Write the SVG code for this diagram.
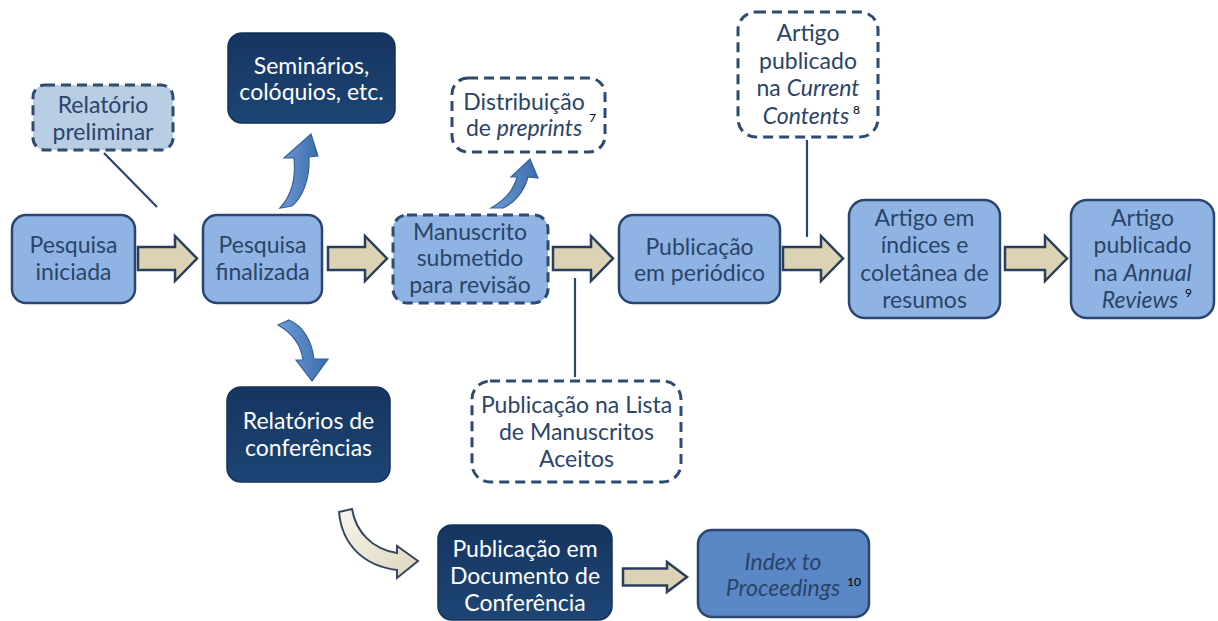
<svg xmlns="http://www.w3.org/2000/svg" width="1218" height="621" viewBox="0 0 1218 621">
<defs>
<style>
.box{fill:#8fb4e3;stroke:#2a4570;stroke-width:2.5}
.light{fill:#b9cde5;stroke:#2f4b72;stroke-width:3;stroke-dasharray:10 6}
.wdash{fill:#ffffff;stroke:#2f4b72;stroke-width:3;stroke-dasharray:10 6}
.mdash{fill:#8fb4e3;stroke:#2f4b72;stroke-width:3;stroke-dasharray:10 6}
.dark{fill:url(#gDark);stroke:#14325a;stroke-width:1.5}
.mid{fill:#5a88c6;stroke:#2a4570;stroke-width:2.5}
.t{font-family:Lato,"Open Sans","Liberation Sans",sans-serif;font-size:23px;fill:#2b4468;text-anchor:middle}
.tw{fill:#ffffff}
.i{font-style:italic}
.sup{font-family:Lato,"Liberation Sans",sans-serif;font-size:12px;fill:#000000}
.barrow{fill:#dcd3b4;stroke:#2a3f5c;stroke-width:2.5;stroke-linejoin:miter}
.carrow{fill:url(#gBlue);stroke:#34619c;stroke-width:1.2}
.warrow{fill:url(#gBeige);stroke:#34475f;stroke-width:2}
.link{stroke:#2a4570;stroke-width:2.2;fill:none}
</style>
<linearGradient id="gDark" x1="0" y1="0" x2="0" y2="1">
<stop offset="0" stop-color="#163560"/>
<stop offset="1" stop-color="#1d4574"/>
</linearGradient>
<linearGradient id="gBlue" x1="0" y1="0" x2="1" y2="0">
<stop offset="0" stop-color="#6f9cd6"/>
<stop offset="1" stop-color="#3d6cab"/>
</linearGradient>
<linearGradient id="gBeige" x1="0" y1="0" x2="1" y2="1">
<stop offset="0" stop-color="#f7f5ee"/>
<stop offset="1" stop-color="#ddd6bd"/>
</linearGradient>
</defs>
<rect width="1218" height="621" fill="#ffffff"/>

<g id="connectors">
<line class="link" x1="104" y1="153" x2="157" y2="207"/>
<line class="link" x1="807" y1="140" x2="807" y2="237"/>
<line class="link" x1="575" y1="278" x2="575" y2="377"/>
<path class="barrow" d="M138,247 L175,247 L175,236 L197,258.5 L175,281 L175,270 L138,270 Z"/>
<path class="barrow" d="M328,247 L365,247 L365,236 L387,258.5 L365,281 L365,270 L328,270 Z"/>
<path class="barrow" d="M553,247 L591,247 L591,236 L613,258.5 L591,281 L591,270 L553,270 Z"/>
<path class="barrow" d="M783,247 L821,247 L821,236 L843,258.5 L821,281 L821,270 L783,270 Z"/>
<path class="barrow" d="M1005,247 L1045,247 L1045,236 L1067,258.5 L1045,281 L1045,270 L1005,270 Z"/>
<path class="barrow" d="M623,568.5 L667,568.5 L667,562 L687,577 L667,592 L667,585.5 L623,585.5 Z"/>
<path class="carrow" d="M280,208 C292,195 296,178 294,158 L284,158 L311,134 L318,156 L309,157 C310,180 302,198 292,206 Z"/>
<path class="carrow" d="M491,208 C505,200 514,190 517,177 L511,177 L530,159 L538,178 L528,177 C524,192 514,203 503,208 Z"/>
<path class="carrow" d="M278,325 L289,320 C303,326 312,341 314,359 L328,359 L312,381 L296,360 L303,360 C301,345 292,333 278,325 Z"/>
<path class="warrow" d="M339,512 L352,509 C356,532 372,549 397,553 L397,546 L418,561 L397,578 L397,570 C364,566 342,545 339,512 Z"/>
</g>

<g id="n-pesquisa-iniciada">
<rect class="box" x="12" y="215" width="123" height="88" rx="14"/>
<text class="t" x="73.5" y="253">Pesquisa</text>
<text class="t" x="73.5" y="280">iniciada</text>
</g>

<g id="n-pesquisa-finalizada">
<rect class="box" x="203" y="215" width="119" height="88" rx="14"/>
<text class="t" x="262.5" y="253">Pesquisa</text>
<text class="t" x="262.5" y="280">finalizada</text>
</g>

<g id="n-relatorio-preliminar">
<rect class="light" x="33" y="85" width="140" height="65" rx="12"/>
<text class="t" x="103" y="113">Relatório</text>
<text class="t" x="103" y="140">preliminar</text>
</g>

<g id="n-seminarios">
<rect class="dark" x="228" y="33" width="167" height="90" rx="14"/>
<text class="t tw" x="311.5" y="74">Seminários,</text>
<text class="t tw" x="311.5" y="100">colóquios, etc.</text>
</g>

<g id="n-manuscrito">
<rect class="mdash" x="393" y="215" width="155" height="88" rx="14"/>
<text class="t" x="470" y="240">Manuscrito</text>
<text class="t" x="470" y="266">submetido</text>
<text class="t" x="470" y="293">para revisão</text>
</g>

<g id="n-distribuicao">
<rect class="wdash" x="452" y="78" width="153" height="74" rx="16"/>
<text class="t" x="524" y="110">Distribuição</text>
<text class="t" x="524" y="136">de <tspan class="i">preprints</tspan></text>
<text class="sup" x="589" y="122">7</text>
</g>

<g id="n-publicacao-periodico">
<rect class="box" x="619" y="215" width="161" height="88" rx="14"/>
<text class="t" x="699.5" y="255">Publicação</text>
<text class="t" x="699.5" y="281">em periódico</text>
</g>

<g id="n-current-contents">
<rect class="wdash" x="738" y="12" width="140" height="125" rx="18"/>
<text class="t" x="808" y="41">Artigo</text>
<text class="t" x="808" y="69">publicado</text>
<text class="t" x="808" y="96">na <tspan class="i">Current</tspan></text>
<text class="t i" x="806" y="124">Contents</text>
<text class="sup" x="853" y="114">8</text>
</g>

<g id="n-artigo-indices">
<rect class="box" x="849" y="200" width="151" height="118" rx="16"/>
<text class="t" x="924.5" y="226">Artigo em</text>
<text class="t" x="924.5" y="253">índices e</text>
<text class="t" x="924.5" y="281">coletânea de</text>
<text class="t" x="924.5" y="308">resumos</text>
</g>

<g id="n-annual-reviews">
<rect class="box" x="1071" y="200" width="143" height="118" rx="16"/>
<text class="t" x="1142.5" y="226">Artigo</text>
<text class="t" x="1142.5" y="253">publicado</text>
<text class="t" x="1142.5" y="281">na <tspan class="i">Annual</tspan></text>
<text class="t i" x="1140" y="308">Reviews</text>
<text class="sup" x="1185" y="297">9</text>
</g>

<g id="n-relatorios-conferencias">
<rect class="dark" x="227" y="387" width="163" height="95" rx="14"/>
<text class="t tw" x="308.5" y="429">Relatórios de</text>
<text class="t tw" x="308.5" y="456">conferências</text>
</g>

<g id="n-lista-manuscritos">
<rect class="wdash" x="472" y="381" width="209" height="101" rx="18"/>
<text class="t" x="576.5" y="413">Publicação na Lista</text>
<text class="t" x="576.5" y="440">de Manuscritos</text>
<text class="t" x="576.5" y="467">Aceitos</text>
</g>

<g id="n-documento-conferencia">
<rect class="dark" x="438" y="525" width="174" height="95" rx="14"/>
<text class="t tw" x="525" y="557">Publicação em</text>
<text class="t tw" x="525" y="584">Documento de</text>
<text class="t tw" x="525" y="611">Conferência</text>
</g>

<g id="n-index-proceedings">
<rect class="mid" x="698" y="530" width="171" height="87" rx="14"/>
<text class="t i" x="783" y="570">Index to</text>
<text class="t i" x="783" y="596">Proceedings</text>
<text class="sup" x="847" y="586">10</text>
</g>
</svg>
